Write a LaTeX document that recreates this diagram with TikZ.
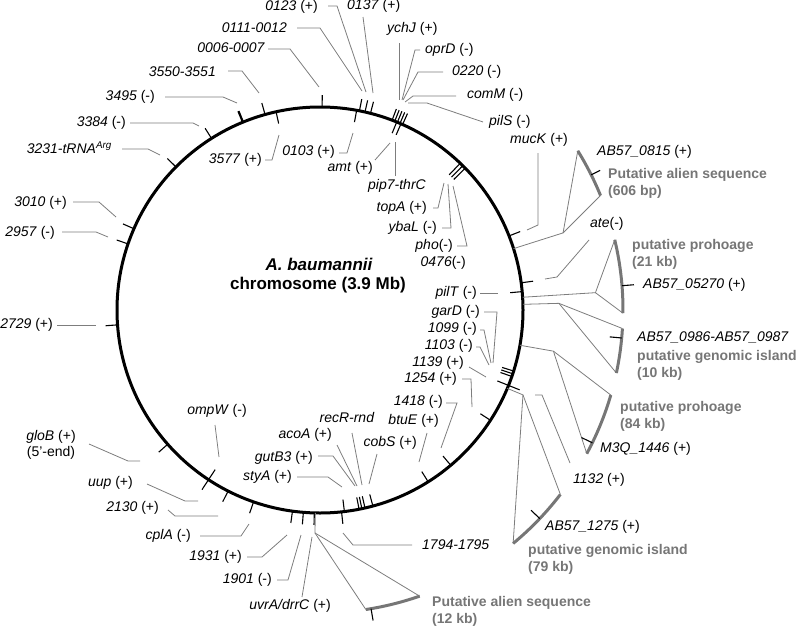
\documentclass[tikz,border=0pt]{standalone}
\usepackage{fontspec}
\setmainfont{Liberation Sans}
\usetikzlibrary{calc}
\definecolor{leadcol}{RGB}{125,125,125}
\definecolor{regcol}{RGB}{118,118,118}
\newcommand\regionmark[5]{% stem angle, apex radius, arc start, arc end, name
  \coordinate (#5s) at ($(C)+(#1:203)$);
  \coordinate (#5a) at ($(C)+(#1:#2)$);
  \coordinate (#5p) at ($(C)+(#3:303)$);
  \coordinate (#5q) at ($(C)+(#4:303)$);
  \draw[ld] (#5s) -- (#5a) -- (#5p);
  \draw[ld] (#5a) -- (#5q);
  \draw[rarc] (#5p) arc[start angle=#3, end angle=#4, radius=303];}
\begin{document}
\begin{tikzpicture}[x=1pt,y=-1pt,
  lab/.style={font=\fontsize{14}{16}\selectfont, inner sep=0pt},
  reg/.style={font=\fontsize{14}{17}\selectfont\bfseries, text=regcol, inner sep=0pt, anchor=west, align=left},
  ld/.style={draw=leadcol, line width=0.8pt},
  tk/.style={draw=black, line width=1.1pt},
  rarc/.style={draw=regcol, line width=3pt},
  ctext/.style={font=\fontsize{17}{20}\selectfont\bfseries, inner sep=0pt}]
\useasboundingbox (0,0) rectangle (800,629);
\coordinate (C) at (320,310);
\draw[line width=3pt] (C) circle[radius=203];
% ticks outside
\foreach \a in {-156.4,-161,175.8,-135.2,-122.3,-105.7,-89.4,-78.8,-77.2,-75.6,-69.2,-68.4,-67.6,-66.8,-66.0,-21.4,-7.7,138.6,116.9,109.1,97.8,94.7,91.6,83.9}
  \draw[tk] ($(C)+(\a:203)$) -- ($(C)+(\a:215)$);
\draw[black, line width=2.2pt] ($(C)+(-112.3:203)$) -- ($(C)+(-112.3:215)$);
% ticks inside
\foreach \a in {-102.5,-79.6,-67.8,-66.5,-5.2,17.5,18.3,19.1,32.9,49.9,57.8,74.9,77.2,78.1,78.9,83.1}
  \draw[tk] ($(C)+(\a:191)$) -- ($(C)+(\a:203)$);
\foreach \a in {-46.3,-45.3,-44.3}
  \draw[tk] ($(C)+(\a:187)$) -- ($(C)+(\a:204)$);
% crossing ticks
\foreach \a in {123.3,21.8}
  \draw[tk] ($(C)+(\a:191)$) -- ($(C)+(\a:215)$);
% regions
\regionmark{-17.6}{255}{-31.7}{-22.2}{ra}
\regionmark{-3.6}{276}{-13.4}{0.6}{rb}
\regionmark{-1.6}{239}{3.5}{12.0}{rc}
\regionmark{10.0}{237}{16.3}{28.3}{rd}
\regionmark{22.7}{220}{37.5}{50.4}{re}
\regionmark{91.3}{223}{70.8}{81.3}{rf}
% region ticks
\draw[tk] ($(C)+(-26.5:303)$) -- ($(C)+(-26.5:313)$);
\draw[tk] ($(C)+(-4.6:303)$) -- ($(C)+(-4.6:315)$);
\draw[tk] ($(C)+(5.3:291)$) -- ($(C)+(5.3:303)$);
\draw[tk] ($(C)+(26:291)$) -- ($(C)+(26:303)$);
\draw[tk] ($(C)+(43.5:291)$) -- ($(C)+(43.5:303)$);
\draw[tk] ($(C)+(80.3:303)$) -- ($(C)+(80.3:315)$);
% centre text
\node[ctext, font=\fontsize{17}{20}\selectfont\bfseries\itshape] (t0) at (319,264) {A. baumannii};
\node[ctext] (t1) at (318,285) {chromosome (3.9 Mb)};
% labels
\node[lab, anchor=east] (n1) at (318,7) {\textit{0123} (+)};
\node[lab, anchor=west] (n2) at (347,6) {\textit{0137} (+)};
\node[lab, anchor=east] (n3) at (287,28) {\textit{0111-0012}};
\node[lab, anchor=east] (n4) at (265,48) {\textit{0006-0007}};
\node[lab, anchor=east] (n5) at (216,72) {\textit{3550-3551}};
\node[lab, anchor=east] (n6) at (155,97) {\textit{3495} (-)};
\node[lab, anchor=east] (n7) at (126,123) {\textit{3384} (-)};
\node[lab, anchor=east] (n8) at (112,148) {\textit{3231-tRNA\textsuperscript{Arg}}};
\node[lab, anchor=east] (n9) at (67,203) {\textit{3010} (+)};
\node[lab, anchor=east] (n10) at (55,233) {\textit{2957} (-)};
\node[lab, anchor=east] (n11) at (53,325) {\textit{2729} (+)};
\node[lab, anchor=east] (n12) at (262,160) {\textit{3577} (+)};
\node[lab, anchor=east] (n13) at (335,152) {\textit{0103} (+)};
\node[lab, anchor=east] (n14) at (373,168) {\textit{amt} (+)};
\node[lab, anchor=west] (n15) at (368,186) {\textit{pip7-thrC}};
\node[lab, anchor=west] (n16) at (387,29) {\textit{ychJ} (+)};
\node[lab, anchor=west] (n17) at (425,50) {\textit{oprD} (-)};
\node[lab, anchor=west] (n18) at (452,72) {\textit{0220} (-)};
\node[lab, anchor=west] (n19) at (467,95) {\textit{comM} (-)};
\node[lab, anchor=west] (n20) at (489,122) {\textit{pilS} (-)};
\node[lab, anchor=west] (n21) at (510,140) {\textit{mucK} (+)};
\node[lab, anchor=east] (n22) at (427,208) {\textit{topA} (+)};
\node[lab, anchor=east] (n23) at (437,228) {\textit{ybaL} (-)};
\node[lab, anchor=east] (n24) at (453,246) {\textit{pho}(-)};
\node[lab, anchor=east] (n25) at (466,263) {\textit{0476}(-)};
\node[lab, anchor=west] (n26) at (597,152) {\textit{AB57\_0815} (+)};
\node[lab, anchor=west] (n27) at (590,224) {\textit{ate}(-)};
\node[lab, anchor=west] (n28) at (643,285) {\textit{AB57\_05270} (+)};
\node[lab, anchor=east] (n29) at (477,293) {\textit{pilT} (-)};
\node[lab, anchor=west] (n30) at (637,337) {\textit{AB57\_0986-AB57\_0987}};
\node[lab, anchor=east] (n31) at (480,312) {\textit{garD} (-)};
\node[lab, anchor=east] (n32) at (477,329) {\textit{1099} (-)};
\node[lab, anchor=east] (n33) at (473,346) {\textit{1103} (-)};
\node[lab, anchor=east] (n34) at (464,363) {\textit{1139} (+)};
\node[lab, anchor=east] (n35) at (457,379) {\textit{1254} (+)};
\node[lab, anchor=east] (n36) at (443,402) {\textit{1418} (-)};
\node[lab, anchor=east] (n37) at (439,421) {\textit{btuE} (+)};
\node[lab, anchor=east] (n38) at (417,443) {\textit{cobS} (+)};
\node[lab] (n39) at (347,417) {\textit{recR-rnd}};
\node[lab, anchor=east] (n40) at (332,435) {\textit{acoA} (+)};
\node[lab, anchor=east] (n41) at (313,458) {\textit{gutB3} (+)};
\node[lab, anchor=east] (n42) at (292,477) {\textit{styA} (+)};
\node[lab, anchor=west] (n43) at (600,449) {\textit{M3Q\_1446} (+)};
\node[lab, anchor=west] (n44) at (573,480) {\textit{1132} (+)};
\node[lab, anchor=west] (n45) at (545,527) {\textit{AB57\_1275} (+)};
\node[lab, anchor=west] (n46) at (422,545) {\textit{1794-1795}};
\node[lab, anchor=east] (n47) at (331,606) {\textit{uvrA/drrC} (+)};
\node[lab, anchor=east] (n48) at (272,580) {\textit{1901} (-)};
\node[lab, anchor=east] (n49) at (242,557) {\textit{1931} (+)};
\node[lab, anchor=east] (n50) at (191,536) {\textit{cplA} (-)};
\node[lab, anchor=east] (n51) at (159,508) {\textit{2130} (+)};
\node[lab, anchor=east] (n52) at (133,483) {\textit{uup} (+)};
\node[lab, align=center, font=\fontsize{14}{16}\selectfont] (n53) at (51,445) {\textit{gloB} (+)\\(5'-end)};
\node[lab] (n54) at (217,411) {\textit{ompW} (-)};
% region labels
\node[reg] (g1) at (608,183.5) {Putative alien sequence\\(606 bp)};
\node[reg] (g2) at (632,254.5) {putative prohoage\\(21 kb)};
\node[reg] (g3) at (637,365) {putative genomic island\\(10 kb)};
\node[reg] (g4) at (620,416.5) {putative prohoage\\(84 kb)};
\node[reg] (g5) at (528,559.5) {putative genomic island\\(79 kb)};
\node[reg] (g6) at (432,611.5) {Putative alien sequence\\(12 kb)};
% leaders
\draw[ld] (328,6)--(337,6)--(366,92);
\draw[ld] (363,17)--(373,93);
\draw[ld] (297,28)--(320,28)--(362,91);
\draw[ld] (268,49)--(290,49)--(319,87);
\draw[ld] (228,71)--(242,71)--(259,93);
\draw[ld] (165,97)--(223,97)--(237,103);
\draw[ld] (130,123)--(193,123)--(199,126);
\draw[ld] (122,149)--(148,149)--(160,155);
\draw[ld] (73,202)--(99,202)--(116,217);
\draw[ld] (62,232)--(96,232)--(108,237);
\draw[ld] (57,325)--(96,325);
\draw[ld] (265,160)--(272,160)--(279,135);
\draw[ld] (339,153)--(347,153)--(353,133);
\draw[ld] (375,160)--(390,143);
\draw[ld] (395,176)--(395,142);
\draw[ld] (399,43)--(399,100);
\draw[ld] (420,50)--(415,50)--(402,100);
\draw[ld] (443,72)--(418,72)--(403,100);
\draw[ld] (456,96)--(413,96)--(405,102);
\draw[ld] (483,122)--(427,103)--(408,103);
\draw[ld] (433,208)--(438,208)--(444,183);
\draw[ld] (442,228)--(451,228)--(448,184);
\draw[ld] (457,246)--(467,246)--(453,186);
\draw[ld] (538,153)--(538,225)--(527,230);
\draw[ld] (589,240)--(557,277)--(545,279);
\draw[ld] (480,293)--(498,293);
\draw[ld] (484,312)--(497,312)--(493,363);
\draw[ld] (480,330)--(484,330)--(491,363);
\draw[ld] (476,347)--(480,347)--(489,365);
\draw[ld] (469,367)--(486,377);
\draw[ld] (462,379)--(471,379)--(472,407);
\draw[ld] (446,403)--(457,403)--(441,448);
\draw[ld] (427,433)--(419,462);
\draw[ld] (377,454)--(369,484);
\draw[ld] (352,433)--(362,485);
\draw[ld] (337,445)--(357,486);
\draw[ld] (318,456)--(333,456)--(355,486);
\draw[ld] (297,477)--(328,477)--(342,487);
\draw[ld] (412,545)--(353,545)--(343,533);
\draw[ld] (302,597)--(312,537);
\draw[ld] (277,580)--(288,580)--(301,535);
\draw[ld] (247,557)--(262,557)--(287,535);
\draw[ld] (200,536)--(241,536)--(249,524);
\draw[ld] (168,510)--(175,516)--(218,516);
\draw[ld] (147,484)--(185,501)--(198,501);
\draw[ld] (89,444)--(128,461)--(140,461);
\draw[ld] (215,425)--(219,457);
\draw[ld] (570,463)--(542,395)--(535,395);
\end{tikzpicture}
\end{document}
